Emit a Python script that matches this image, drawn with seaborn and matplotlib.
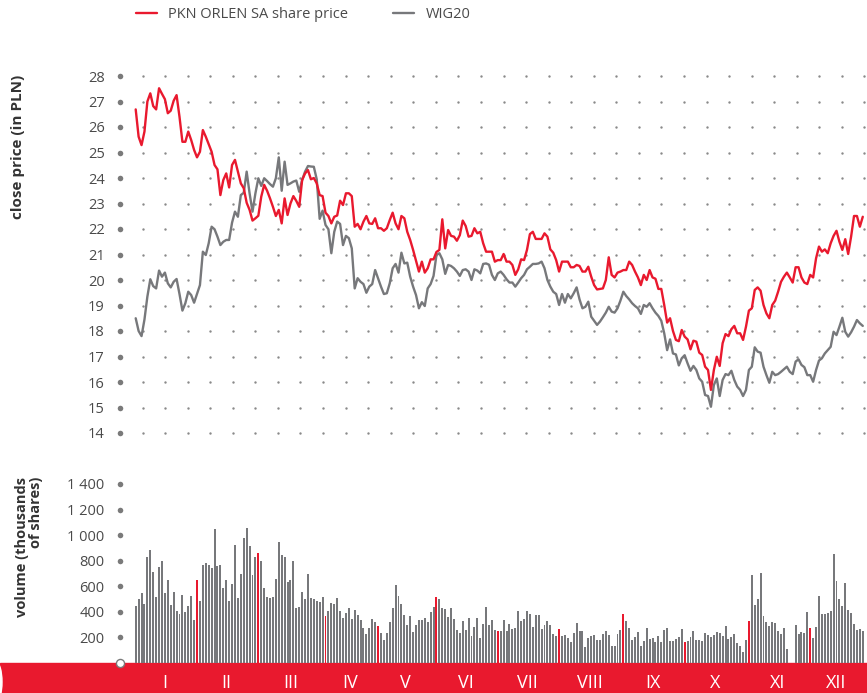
import numpy as np
import pandas as pd
import matplotlib
matplotlib.use("Agg")
import matplotlib.pyplot as plt
import seaborn as sns
from matplotlib.patches import Rectangle, Ellipse
from matplotlib.lines import Line2D

MONTHS = ['I', 'II', 'III', 'IV', 'V', 'VI', 'VII', 'VIII', 'IX', 'X', 'XI', 'XII']
MONTH_DAYS = [21, 21, 23, 18, 20, 21, 21, 22, 21, 22, 21, 19]

# close price, PLN (daily)
PKN = [26.69, 25.62, 25.29, 25.82, 27.0, 27.32, 26.82, 26.69, 27.52, 27.3,
       27.09, 26.54, 26.64, 27.03, 27.25, 26.4, 25.42, 25.42, 25.82, 25.49,
       25.1, 24.81, 25.03, 25.88, 25.62, 25.33, 25.03, 24.51, 24.34, 23.33,
       23.92, 24.18, 23.63, 24.51, 24.71, 24.25, 23.79, 23.6, 23.03, 22.75,
       22.33, 22.42, 22.52, 23.27, 23.73, 23.5, 23.2, 22.87, 22.51, 22.75,
       22.22, 23.2, 22.55, 23.0, 23.29, 23.1, 22.87, 23.92, 24.18, 24.31,
       23.95, 24.0, 23.79, 23.33, 23.29, 22.64, 22.51, 22.22, 22.48, 22.53,
       23.11, 22.94, 23.4, 23.4, 23.29, 22.09, 22.2, 21.99, 22.29, 22.51,
       22.22, 22.2, 22.42, 22.03, 22.03, 21.93, 22.03, 22.35, 22.64, 22.22,
       21.99, 22.51, 22.42, 21.89, 21.57, 21.18, 20.76, 20.33, 20.72, 20.29,
       20.46, 20.81, 20.81, 21.1, 21.18, 22.38, 21.24, 21.96, 21.73, 21.7,
       21.54, 21.76, 22.33, 22.12, 21.7, 21.73, 22.03, 21.83, 21.89, 21.44,
       21.11, 21.11, 21.11, 20.72, 20.78, 20.78, 21.02, 20.72, 20.72, 20.59,
       20.2, 20.42, 20.81, 20.78, 21.18, 21.8, 21.89, 21.61, 21.61, 21.61,
       21.83, 21.7, 21.2, 21.07, 20.78, 20.33, 20.72, 20.72, 20.72, 20.5,
       20.5, 20.59, 20.55, 20.33, 20.33, 20.52, 20.13, 19.8, 19.63, 19.65,
       19.67, 20.0, 20.89, 20.2, 20.1, 20.29, 20.33, 20.39, 20.39, 20.72,
       20.59, 20.33, 20.1, 19.8, 20.2, 20.0, 20.39, 20.1, 20.05, 19.65,
       19.65, 19.02, 18.33, 18.5, 18.0, 17.65, 17.6, 18.04, 17.78, 17.67,
       17.28, 17.62, 17.58, 17.15, 17.06, 16.6, 16.47, 15.69, 16.47, 16.99,
       16.63, 17.52, 17.88, 17.8, 18.07, 18.2, 17.91, 17.91, 17.65, 18.17,
       18.8, 18.89, 19.61, 19.71, 19.58, 19.02, 18.69, 18.5, 19.02, 19.19,
       19.54, 19.93, 20.13, 20.29, 20.1, 19.9, 20.5, 20.5, 20.1, 19.9,
       19.84, 20.2, 20.1, 20.85, 21.31, 21.11, 21.2, 21.05, 21.44, 21.73,
       21.93, 21.5, 21.18, 21.6, 21.02, 21.7, 22.51, 22.51, 22.09, 22.48]

# WIG20 rescaled to the price axis
WIG20 = [18.5, 18.0, 17.8, 18.45, 19.35, 20.03, 19.76, 19.67, 20.37, 20.13,
         20.29, 19.87, 19.71, 19.93, 20.04, 19.45, 18.8, 19.09, 19.54, 19.41,
         19.11, 19.45, 19.8, 21.11, 20.98, 21.44, 22.09, 21.99, 21.7, 21.37,
         21.5, 21.57, 21.57, 22.25, 22.68, 22.48, 23.33, 23.42, 24.25, 23.4,
         22.68, 23.4, 23.99, 23.69, 23.99, 23.88, 23.76, 23.66, 23.99, 24.81,
         23.5, 24.64, 23.73, 23.79, 23.86, 23.9, 23.46, 23.92, 24.25, 24.47,
         24.45, 24.44, 23.95, 22.4, 22.72, 22.16, 21.99, 21.05, 21.89, 22.29,
         22.2, 21.37, 21.73, 21.64, 21.24, 19.67, 20.07, 19.93, 19.84, 19.5,
         19.74, 19.84, 20.39, 20.07, 19.74, 19.45, 19.48, 19.87, 20.46, 20.63,
         20.29, 21.07, 20.65, 20.68, 20.13, 19.74, 19.41, 18.89, 19.13, 18.98,
         19.67, 19.84, 20.16, 20.98, 21.05, 20.81, 20.24, 20.59, 20.55, 20.46,
         20.33, 20.16, 20.39, 20.42, 20.33, 20.0, 20.42, 20.37, 20.26, 20.63,
         20.65, 20.6, 20.2, 20.0, 20.26, 20.33, 20.2, 20.03, 19.9, 19.9,
         19.74, 19.9, 20.07, 20.2, 20.42, 20.52, 20.63, 20.63, 20.65, 20.72,
         20.46, 20.0, 19.74, 19.54, 19.45, 19.02, 19.45, 19.11, 19.45, 19.28,
         19.48, 19.71, 19.24, 18.89, 18.95, 19.15, 18.56, 18.4, 18.24, 18.37,
         18.54, 18.72, 18.95, 18.76, 18.72, 18.89, 19.19, 19.54, 19.37, 19.24,
         19.09, 18.98, 18.89, 18.67, 19.02, 18.95, 19.09, 18.89, 18.72, 18.59,
         18.4, 17.91, 17.25, 17.67, 17.12, 17.08, 16.65, 16.93, 17.05, 16.73,
         16.44, 16.63, 16.47, 16.14, 16.01, 15.49, 15.45, 15.03, 15.88, 16.14,
         15.45, 16.08, 16.31, 16.27, 16.44, 16.08, 15.82, 15.69, 15.45, 15.69,
         16.47, 16.6, 17.36, 17.19, 17.15, 16.6, 16.27, 15.97, 16.4, 16.27,
         16.31, 16.4, 16.5, 16.6, 16.4, 16.31, 16.8, 16.89, 16.67, 16.58,
         16.27, 16.27, 16.01, 16.47, 16.84, 16.93, 17.12, 17.25, 17.38, 17.97,
         17.84, 18.17, 18.52, 17.97, 17.78, 17.95, 18.17, 18.43, 18.3, 18.2]

# volume, thousands of shares, month by month
VOLUME = [
    448, 503, 550, 461, 829, 886, 712, 519, 753, 800, 550, 649, 454, 555, 409, 383, 532, 401, 448, 527, 336,
    652, 485, 770, 780, 770, 745, 1050, 755, 770, 590, 650, 485, 620, 925, 510, 700, 980, 1056, 915, 685, 830,
    860, 800, 590, 515, 510, 515, 660, 945, 845, 830, 635, 650, 800, 430, 440, 555, 503, 696, 511, 503, 488, 477, 519,
    370, 407, 469, 461, 511, 407, 352, 391, 430, 344, 414, 375, 336, 274, 227, 274, 344, 321,
    289, 235, 180, 235, 321, 430, 610, 524, 461, 375, 297, 368, 242, 297, 336, 336, 352, 321, 399, 438,
    516, 501, 430, 422, 360, 430, 344, 258, 235, 328, 258, 352, 211, 282, 352, 196, 305, 438, 297, 336, 258,
    250, 250, 336, 250, 305, 266, 274, 407, 328, 344, 407, 383, 282, 375, 375, 266, 297, 328, 297, 227, 211,
    266, 211, 219, 196, 164, 235, 313, 250, 250, 125, 196, 211, 219, 180, 180, 227, 250, 219, 133, 133, 227, 258,
    383, 328, 274, 180, 203, 242, 133, 172, 274, 188, 196, 164, 211, 164, 258, 274, 172, 172, 188, 203, 266,
    164, 172, 203, 250, 180, 180, 172, 235, 219, 203, 219, 242, 235, 211, 289, 188, 203, 227, 156, 133, 86, 180,
    328, 690, 451, 498, 704, 368, 320, 289, 320, 313, 250, 227, 274, 110, 0, 0, 297, 227, 242, 235, 399,
    274, 196, 282, 524, 383, 383, 391, 407, 852, 641, 501, 446, 625, 414, 391, 305, 258, 266, 250,
]

PRICE_TICKS = list(range(14, 29))
VOL_TICKS = [200, 400, 600, 800, 1000, 1200, 1400]
VOL_LABELS = ['200', '400', '600', '800', '1 000', '1 200', '1 400']

RED = '#e9192e'
GRAY = '#77787b'
DOT = '#8a8a8a'
TXT = '#4a4a4a'

N = sum(MONTH_DAYS)
assert len(PKN) == N and len(WIG20) == N and len(VOLUME) == N

starts = np.cumsum([0] + MONTH_DAYS[:-1])
centers = starts + (np.array(MONTH_DAYS) - 1) / 2

days = np.arange(N)
prices = pd.DataFrame({'day': days, 'PKN ORLEN SA share price': PKN, 'WIG20': WIG20})
prices = prices.melt(id_vars='day', var_name='series', value_name='close')
vol = pd.DataFrame({'day': days, 'volume': VOLUME})
vol['first'] = vol['day'].isin(starts[1:])

sns.set_theme(style='white')
plt.rcParams['font.family'] = ['Open Sans', 'DejaVu Sans']

W, H = 867, 693
fig = plt.figure(figsize=(W / 100, H / 100), dpi=100)
fx = lambda px: px / W
fy = lambda py: 1 - py / H

ax = fig.add_axes([fx(120), fy(433), 1 - fx(120), fy(76) - fy(433)])
axv = fig.add_axes([fx(120), fy(663), 1 - fx(120), fy(484) - fy(663)])

# price lines
sns.lineplot(data=prices, x='day', y='close', hue='series',
             palette={'PKN ORLEN SA share price': RED, 'WIG20': GRAY},
             hue_order=['WIG20', 'PKN ORLEN SA share price'],
             linewidth=1.7, legend=False, ax=ax)

# volume bars, first session of each month in red
sns.barplot(data=vol, x='day', y='volume', hue='first', palette={False: GRAY, True: RED},
            dodge=False, native_scale=True, width=0.68, saturation=1, errorbar=None,
            linewidth=0, legend=False, ax=axv)

xlim = ((120 - 135.7) / 2.92, (867 - 135.7) / 2.92)
for a in (ax, axv):
    a.set_xlim(*xlim)
    a.set_facecolor('none')
    sns.despine(ax=a, left=True, bottom=True)
    a.set_xlabel('')
    a.set_ylabel('')
    a.tick_params(length=0, colors=TXT, labelsize=10.5, pad=11)

ax.set_ylim(14, 28)
ax.set_yticks(PRICE_TICKS)
ax.set_xticks([])

axv.set_ylim(0, 1400)
axv.set_yticks(VOL_TICKS)
axv.set_yticklabels(VOL_LABELS)
axv.set_xticks(centers)
axv.set_xticklabels(MONTHS)
axv.tick_params(axis='x', colors='white', labelsize=13, pad=8)

# dotted grid and axis dots
tr = ax.get_yaxis_transform()
cols = [k * 22.56 / (W - 120) for k in range(1, 34)]
gx, gy = np.meshgrid(cols, PRICE_TICKS)
ax.scatter(gx.ravel(), gy.ravel(), s=3, color=DOT, linewidths=0, transform=tr, clip_on=False, zorder=0)
ax.scatter([0] * len(PRICE_TICKS), PRICE_TICKS, s=16, color='#7a7a7a', linewidths=0,
           transform=tr, clip_on=False, zorder=3)
trv = axv.get_yaxis_transform()
axv.scatter([0] * len(VOL_TICKS), VOL_TICKS, s=16, color='#7a7a7a', linewidths=0,
            transform=trv, clip_on=False, zorder=3)
axv.scatter([0], [0], s=34, color='white', edgecolors='#7a7a7a', linewidths=1,
            transform=trv, clip_on=False, zorder=4)

# red band under the volume chart
fig.patches.append(Rectangle((0, 0), 1, 30 / H, transform=fig.transFigure,
                             color=RED, zorder=-2))
fig.patches.append(Ellipse((fx(-4), fy(682)), 12 / W, 40 / H, transform=fig.transFigure,
                           color='white', zorder=-1))

# axis titles
fig.text(fx(18), fy(147), 'close price (in PLN)', rotation=90, ha='center', va='center',
         fontsize=11, fontweight='bold', color='#333333')
fig.text(fx(29), fy(477), 'volume (thousands\nof shares)', rotation=90, ha='center', va='top',
         multialignment='right', fontsize=10.5, fontweight='bold', color='#333333',
         linespacing=1.0)

handles = [Line2D([], [], color=RED, lw=1.7), Line2D([], [], color=GRAY, lw=1.7)]
fig.legend(handles, ['PKN ORLEN SA share price', 'WIG20'], loc='center left',
           bbox_to_anchor=(fx(136), fy(15)), ncol=2, frameon=False, fontsize=10.5,
           labelcolor=TXT, handlelength=1.45, handletextpad=0.75, columnspacing=3.1,
           borderpad=0, borderaxespad=0)

fig.savefig('out.png', dpi=100)
